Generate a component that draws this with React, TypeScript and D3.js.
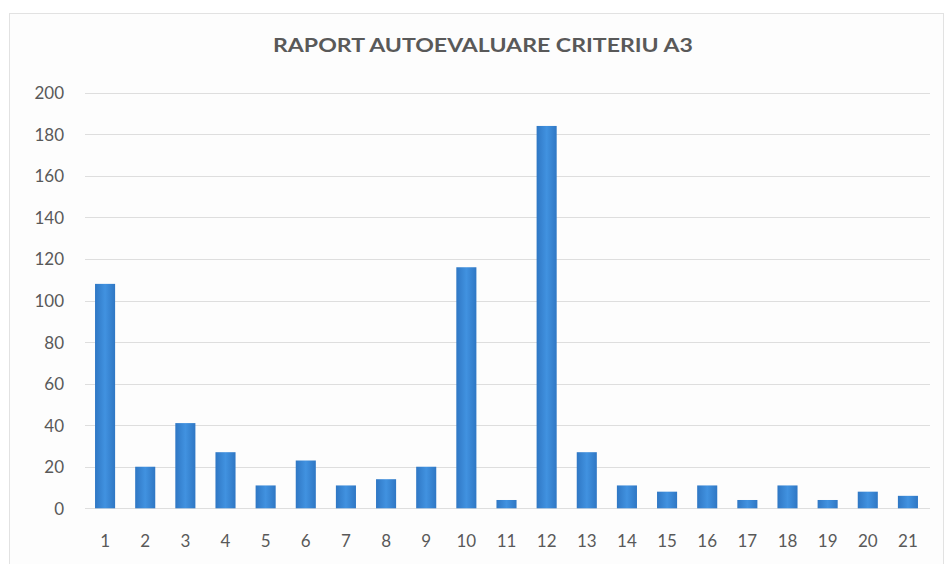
import React from "react";
import * as d3 from "d3";

const title = "RAPORT AUTOEVALUARE CRITERIU A3";
const categories = ["1","2","3","4","5","6","7","8","9","10","11","12","13","14","15","16","17","18","19","20","21"];
const values = [108, 20, 41, 27, 11, 23, 11, 14, 20, 116, 4, 184, 27, 11, 8, 11, 4, 11, 4, 8, 6];
const yTicks = [0, 20, 40, 60, 80, 100, 120, 140, 160, 180, 200];

const W = 948;
const H = 564;
const FONT = "Lato, 'Open Sans', 'Liberation Sans', sans-serif";
const TEXT = "#595959";

export default function App() {
  const x = d3.scaleBand<string>().domain(categories).range([85, 928]).paddingInner(0.5).paddingOuter(0.25);
  const y = d3.scaleLinear().domain([0, 200]).range([508.3, 92.7]);
  return (
    <svg width={W} height={H} style={{ position: "absolute", left: 0, top: 0, display: "block" }} fontFamily={FONT}>
      <defs>
        <linearGradient id="barGrad" x1="0" x2="1" y1="0" y2="0">
          <stop offset="0%" stopColor="#2f77c4" />
          <stop offset="50%" stopColor="#4192e0" />
          <stop offset="100%" stopColor="#2f77c4" />
        </linearGradient>
      </defs>
      <rect x={0} y={0} width={W} height={H} fill="#ffffff" />
      <rect x={9.5} y={13.5} width={934} height={560} fill="#fdfdfd" stroke="#e2e2e2" strokeWidth={1} />
      <text x={483} y={45} textAnchor="middle" dominantBaseline="central" fontSize={18} fontWeight="bold" fill={TEXT} textLength={420} lengthAdjust="spacingAndGlyphs">
        {title}
      </text>
      {yTicks.map((t) => (
        <g key={t}>
          <line x1={85} x2={930} y1={Math.round(y(t)) + 0.5} y2={Math.round(y(t)) + 0.5} stroke="#dedede" strokeWidth={1} />
          <text x={64} y={y(t)} textAnchor="end" dominantBaseline="central" fontSize={17} fill={TEXT}>
            {t}
          </text>
        </g>
      ))}
      {categories.map((c, i) => (
        <rect key={c} x={x(c)} y={y(values[i])} width={x.bandwidth()} height={y(0) - y(values[i])} fill="url(#barGrad)" />
      ))}
      {categories.map((c) => (
        <text key={c} x={(x(c) as number) + x.bandwidth() / 2} y={540} textAnchor="middle" dominantBaseline="central" fontSize={17} fill={TEXT}>
          {c}
        </text>
      ))}
    </svg>
  );
}
